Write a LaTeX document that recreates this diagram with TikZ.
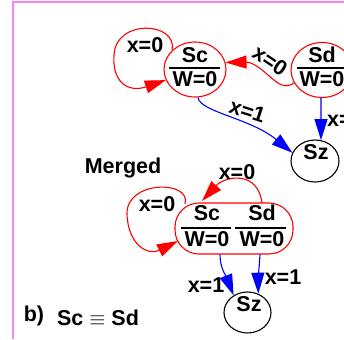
\documentclass[tikz,border=0pt]{standalone}
\usepackage{fontspec}
\setmainfont{Liberation Sans}
\usetikzlibrary{arrows.meta,shapes.geometric}
\definecolor{framepink}{RGB}{255,128,255}
\begin{document}
\begin{tikzpicture}[x=1pt,y=-1pt,
  every node/.style={font=\fontsize{21.5}{24}\selectfont\bfseries, inner sep=0pt},
  tip/.style={-{Triangle[length=21pt,width=13pt]}},
  redline/.style={draw=red, line width=1.1pt},
  blueline/.style={draw=blue, line width=1.1pt},
  stateell/.style={ellipse, draw=red, line width=1.1pt, minimum width=62pt, minimum height=55pt},
  sinkell/.style={ellipse, draw=black, line width=1.1pt, minimum width=48pt, minimum height=42pt},
  merged/.style={draw=red, line width=1.1pt, rounded corners=24pt, minimum width=118pt, minimum height=51pt},
  rulebar/.style={line width=1.4pt}
]
\useasboundingbox (0,0) rectangle (344,339);

% page frame
\draw[framepink, line width=2pt] (13,339) -- (13,2.5) -- (344,2.5);

% ---------- separate states ----------
\node[stateell] (sc) at (195,69.5) {};
\node (sclab) at (195,55) {Sc};
\node (scout) at (195,79) {W=0};
\draw[rulebar] (169,68) -- (220,68);

\node[stateell] (sd) at (322,70) {};
\node (sdlab) at (322,55) {Sd};
\node (sdout) at (322,79) {W=0};
\draw[rulebar] (297,68) -- (348,68);

\node[sinkell] (sz) at (315,161) {};
\node (szlab) at (316,152) {Sz};

% Sc self loop
\draw[redline, tip] (sc.140) .. controls (178,22) and (116,18) .. (114,55)
  .. controls (112,82) and (128,93) .. (sc.200);
\node (l1) at (145,45) {x=0};

% Sd -> Sc
\draw[redline, tip] (sd.205) .. controls (282,91) and (275,80) .. (262,70)
  .. controls (256,65) and (250,62) .. (sc.13);
\node[rotate=-34] (l2) at (270,61) {x=0};

% Sc -> Sz
\draw[blueline, tip] (sc.-84) .. controls (200,112) and (250,118) .. (sz.160);
\node[rotate=-18] (l3) at (247.5,111) {x=1};

% Sd -> Sz
\draw[blueline, tip] (sd.-92) -- (sz.74);
\node[anchor=west] (l4) at (327,119) {x=1};

% ---------- merged state ----------
\node (mtitle) at (123,168) {Merged};

\node[merged] (mg) at (234,228.5) {};
\node (mglab1) at (207,213) {Sc};
\node (mglab2) at (262,213) {Sd};
\node (mgout1) at (207,239) {W=0};
\node (mgout2) at (262,239) {W=0};
\draw[rulebar] (181,228) -- (231,228);
\draw[rulebar] (235,228) -- (286,228);

\node[sinkell, minimum width=47pt, minimum height=41pt] (sz2) at (247.5,312.5) {};
\node (sz2lab) at (249,304) {Sz};

% left self loop
\coordinate (ml1) at (185,204);
\coordinate (ml2) at (178,241);
\draw[redline, tip] (ml1) .. controls (192,180) and (126,180) .. (127,214)
  .. controls (128,245) and (148,256) .. (ml2);
\node (l5) at (157,204) {x=0};

% top self loop
\coordinate (mt1) at (262,203);
\coordinate (mt2) at (202,201);
\draw[redline, tip] (mt1) .. controls (258,170) and (225,176) .. (mt2);
\node (l6) at (237,172) {x=0};

% merged -> Sz
\coordinate (mb1) at (220,254.5);
\coordinate (mb2) at (260,254.5);
\draw[blueline, tip] (mb1) .. controls (220,268) and (226,276) .. (sz2.129);
\draw[blueline, tip] (mb2) .. controls (259,270) and (258,280) .. (sz2.60);
\node (l7) at (206,285) {x=1};
\node (l8) at (283,277) {x=1};

% caption
\node (cap1) at (34,316) {b)};
\node (cap2) at (98,318) {Sc $\equiv$ Sd};
\end{tikzpicture}
\end{document}
